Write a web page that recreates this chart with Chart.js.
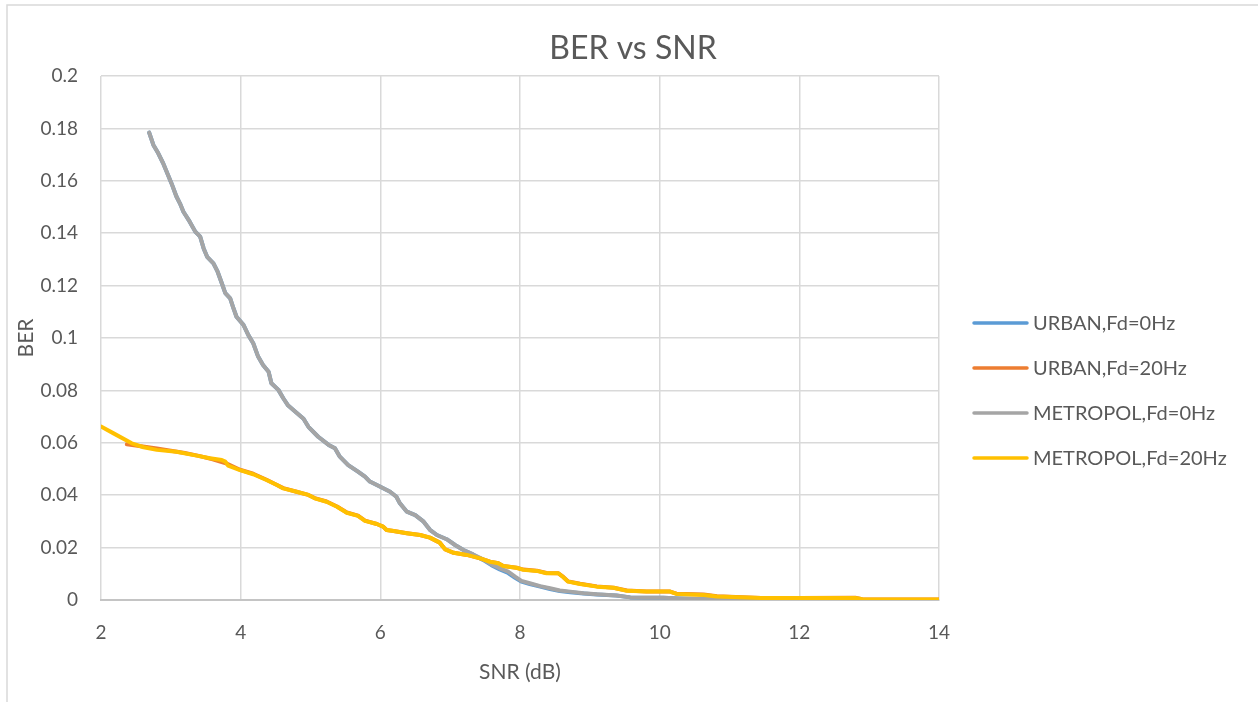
<!DOCTYPE html>
<html>
<head>
<meta charset="utf-8">
<title>BER vs SNR</title>
<script src="https://cdn.jsdelivr.net/npm/chart.js@4/dist/chart.umd.min.js"></script>
<style>
  html, body { margin: 0; padding: 0; background: #ffffff; overflow: hidden; }
  #wrap { width: 1258px; height: 702px; }
</style>
</head>
<body>
<div id="wrap"><canvas id="chart" width="1258" height="702"></canvas></div>
<script>
// Axis ticks
const xTicks = [2, 4, 6, 8, 10, 12, 14];
const yTicks = [0, 0.02, 0.04, 0.06, 0.08, 0.1, 0.12, 0.14, 0.16, 0.18, 0.2];
const yTickLabels = ['0', '0.02', '0.04', '0.06', '0.08', '0.1', '0.12', '0.14', '0.16', '0.18', '0.2'];

const seriesNames = ['URBAN,Fd=0Hz', 'URBAN,Fd=20Hz', 'METROPOL,Fd=0Hz', 'METROPOL,Fd=20Hz'];

// METROPOL, Fd = 0 Hz
const snrMetro0 = [2.69, 2.75, 2.82, 2.89, 2.93, 3.01, 3.08, 3.13, 3.18, 3.27, 3.35, 3.42, 3.47, 3.52, 3.61, 3.67, 3.73, 3.78, 3.85, 3.89,
  3.94, 4.04, 4.11, 4.18, 4.25, 4.32, 4.40, 4.44, 4.54, 4.61, 4.68, 4.80, 4.90, 4.97, 5.11, 5.26, 5.35, 5.42, 5.54, 5.68,
  5.78, 5.85, 6.00, 6.14, 6.23, 6.28, 6.38, 6.50, 6.62, 6.71, 6.81, 6.95, 7.07, 7.19, 7.33, 7.47, 7.59, 7.71, 7.83, 7.93,
  8.02, 8.14, 8.29, 8.43, 8.57, 8.72, 8.91, 9.10, 9.38, 9.58, 9.81, 10.05, 10.29, 10.53, 11.0, 11.5, 12.0, 13.0, 14.0];
const berMetro0 = [0.1784, 0.1737, 0.1705, 0.1667, 0.1641, 0.159, 0.154, 0.1514, 0.1482, 0.1444, 0.1406, 0.1387, 0.1342, 0.131, 0.1285, 0.1253, 0.1209, 0.1171, 0.1151, 0.1119,
  0.1081, 0.105, 0.1011, 0.098, 0.0929, 0.0897, 0.0871, 0.0827, 0.0802, 0.077, 0.0742, 0.0715, 0.0692, 0.0661, 0.0623, 0.0592, 0.0579, 0.0547, 0.0515, 0.049,
  0.0471, 0.0452, 0.0432, 0.0413, 0.0394, 0.0369, 0.0337, 0.0324, 0.0299, 0.0268, 0.0248, 0.0232, 0.021, 0.0191, 0.0174, 0.0155, 0.0136, 0.0121, 0.0108, 0.0089,
  0.0073, 0.0064, 0.0053, 0.0045, 0.0036, 0.0032, 0.0026, 0.0022, 0.0017, 0.001, 0.0009, 0.0009, 0.0006, 0.0004, 0.0001, 0.0001, 0.0001, 0.0, 0.0];

// URBAN, Fd = 0 Hz
const snrUrban0 = [2.69, 2.75, 2.82, 2.89, 2.93, 3.01, 3.08, 3.13, 3.18, 3.27, 3.35, 3.42, 3.47, 3.52, 3.61, 3.67, 3.73, 3.78, 3.85, 3.89,
  3.94, 4.04, 4.11, 4.18, 4.25, 4.32, 4.40, 4.44, 4.54, 4.61, 4.68, 4.80, 4.90, 4.97, 5.11, 5.26, 5.35, 5.42, 5.54, 5.68,
  5.78, 5.85, 6.00, 6.14, 6.23, 6.28, 6.38, 6.50, 6.62, 6.71, 6.81, 6.95, 7.07, 7.19, 7.33, 7.47, 7.59, 7.71, 7.83, 7.93,
  8.02, 8.14, 8.29, 8.43, 8.57, 8.72, 8.91, 9.10, 9.38, 9.58, 9.81, 10.05, 10.29, 10.53, 11.0, 11.5, 12.0, 13.0, 14.0];
const berUrban0 = [0.1784, 0.1737, 0.1705, 0.1667, 0.1641, 0.159, 0.154, 0.1514, 0.1482, 0.1444, 0.1406, 0.1387, 0.1342, 0.131, 0.1285, 0.1253, 0.1209, 0.1171, 0.1151, 0.1119,
  0.1081, 0.105, 0.1011, 0.098, 0.0929, 0.0897, 0.0871, 0.0827, 0.0802, 0.077, 0.0742, 0.0715, 0.0692, 0.0661, 0.0623, 0.0592, 0.0579, 0.0547, 0.0515, 0.049,
  0.0471, 0.0452, 0.0432, 0.0413, 0.0394, 0.0369, 0.0337, 0.0324, 0.0299, 0.0268, 0.0248, 0.0232, 0.021, 0.0191, 0.0173, 0.0153, 0.0133, 0.0117, 0.0103, 0.0085,
  0.0070, 0.0061, 0.0051, 0.0042, 0.0034, 0.0030, 0.0025, 0.0021, 0.0017, 0.001, 0.0009, 0.0009, 0.0006, 0.0004, 0.0001, 0.0001, 0.0001, 0.0, 0.0];

// METROPOL, Fd = 20 Hz
const snrMetro20 = [2.0, 2.18, 2.44, 2.61, 2.80, 3.08, 3.37, 3.56, 3.73, 3.78, 3.82, 3.99, 4.18, 4.37, 4.52, 4.61, 4.80, 4.97, 5.06, 5.23,
  5.38, 5.52, 5.68, 5.78, 5.95, 6.04, 6.09, 6.19, 6.38, 6.57, 6.71, 6.85, 6.93, 7.05, 7.24, 7.43, 7.57, 7.69, 7.76, 7.95,
  8.05, 8.24, 8.38, 8.55, 8.62, 8.69, 8.86, 9.10, 9.34, 9.53, 9.81, 10.15, 10.24, 10.63, 10.82, 11.45, 12.0, 12.8, 12.9, 14.0];
const berMetro20 = [0.0662, 0.0636, 0.0598, 0.0583, 0.0573, 0.0566, 0.0551, 0.0541, 0.0534, 0.0528, 0.0513, 0.0496, 0.048, 0.0458, 0.0439, 0.0426, 0.0413, 0.0401, 0.0388, 0.0375,
  0.0356, 0.0333, 0.0321, 0.0302, 0.029, 0.028, 0.0267, 0.0263, 0.0255, 0.0248, 0.0238, 0.0219, 0.0193, 0.018, 0.0172, 0.0159, 0.0146, 0.014, 0.013, 0.0123,
  0.0115, 0.0111, 0.0102, 0.0102, 0.0087, 0.007, 0.0061, 0.0051, 0.0047, 0.0035, 0.0032, 0.0032, 0.0023, 0.0019, 0.0013, 0.0008, 0.0008, 0.0008, 0.0003, 0.0002];

// URBAN, Fd = 20 Hz
const snrUrban20 = [2.37, 2.6, 2.8, 3.0, 3.2, 3.4, 3.6, 3.8, 3.99, 4.18, 4.37, 4.52, 4.61, 4.80, 4.97, 5.06, 5.23,
  5.38, 5.52, 5.68, 5.78, 5.95, 6.04, 6.09, 6.19, 6.38, 6.57, 6.71, 6.85, 6.93, 7.05, 7.24, 7.43, 7.57, 7.69, 7.76, 7.95,
  8.05, 8.24, 8.38, 8.55, 8.62, 8.69, 8.86, 9.10, 9.34, 9.53, 9.81, 10.15, 10.24, 10.63, 10.82, 11.45, 12.0, 12.8, 12.9, 14.0];
const berUrban20 = [0.0594, 0.0586, 0.0578, 0.057, 0.0561, 0.055, 0.0537, 0.0521, 0.0497, 0.0482, 0.0459, 0.0439, 0.0427, 0.0413, 0.0401, 0.0389, 0.0376,
  0.0357, 0.0334, 0.0322, 0.0303, 0.029, 0.028, 0.0267, 0.0263, 0.0255, 0.0248, 0.0238, 0.0219, 0.0193, 0.018, 0.0172, 0.0159, 0.0146, 0.014, 0.013, 0.0123,
  0.0116, 0.0112, 0.0103, 0.0102, 0.0088, 0.0071, 0.0062, 0.0052, 0.0047, 0.0036, 0.0032, 0.0032, 0.0024, 0.0021, 0.0014, 0.0008, 0.0008, 0.0009, 0.0003, 0.0002];

const seriesColors = ['#5B9BD5', '#ED7D31', '#A5A5A5', '#FFC000'];

const FONT = 'Lato, "Liberation Sans", sans-serif';
const TEXT = '#595959';

function points(xs, ys) {
  return xs.map((x, i) => ({ x: x, y: ys[i] }));
}

const seriesData = [
  points(snrUrban0, berUrban0),
  points(snrUrban20, berUrban20),
  points(snrMetro0, berMetro0),
  points(snrMetro20, berMetro20)
];

// Frame, title and legend drawn around the plot
const decorations = {
  id: 'decorations',
  beforeDraw(chart) {
    const ctx = chart.ctx;
    ctx.save();
    ctx.fillStyle = '#ffffff';
    ctx.fillRect(0, 0, chart.width, chart.height);
    ctx.strokeStyle = '#d9d9d9';
    ctx.lineWidth = 1.5;
    ctx.strokeRect(7, 5, chart.width + 10, chart.height + 10);
    ctx.restore();
  },
  afterDraw(chart) {
    const ctx = chart.ctx;
    ctx.save();
    ctx.fillStyle = TEXT;
    ctx.font = '32px ' + FONT;
    ctx.textAlign = 'center';
    ctx.textBaseline = 'middle';
    ctx.fillText('BER vs SNR', 633, 49);

    ctx.font = '20px ' + FONT;
    ctx.textAlign = 'left';
    chart.data.datasets.forEach((ds, i) => {
      const y = 323 + i * 45;
      ctx.strokeStyle = ds.borderColor;
      ctx.lineWidth = 3.5;
      ctx.lineCap = 'round';
      ctx.beginPath();
      ctx.moveTo(974, y);
      ctx.lineTo(1027, y);
      ctx.stroke();
      ctx.fillStyle = TEXT;
      ctx.fillText(ds.label, 1033, y + 1);
    });
    ctx.restore();
  }
};

new Chart(document.getElementById('chart'), {
  type: 'scatter',
  data: {
    datasets: seriesData.map((d, i) => ({
      label: seriesNames[i],
      data: d,
      // later series are painted over earlier ones
      order: seriesData.length - i,
      showLine: true,
      borderColor: seriesColors[i],
      backgroundColor: seriesColors[i],
      borderWidth: 4,
      pointRadius: 0,
      pointHoverRadius: 0,
      tension: 0,
      borderJoinStyle: 'round',
      borderCapStyle: 'round'
    }))
  },
  options: {
    responsive: false,
    animation: false,
    devicePixelRatio: 1,
    layout: { padding: { top: 76, left: 8, right: 319, bottom: 0 } },
    plugins: {
      legend: { display: false },
      title: { display: false },
      tooltip: { enabled: false }
    },
    scales: {
      x: {
        type: 'linear',
        min: 2,
        max: 14,
        afterBuildTicks(scale) { scale.ticks = xTicks.map(v => ({ value: v })); },
        afterFit(scale) { scale.height = 102; },
        ticks: {
          color: TEXT,
          font: { family: FONT, size: 19 },
          padding: 21,
          callback: v => String(v)
        },
        grid: { color: '#d9d9d9', lineWidth: 1.5, drawTicks: false },
        border: { display: true, color: '#c4c4c4', width: 2 },
        title: {
          display: true,
          text: 'SNR (dB)',
          color: TEXT,
          font: { family: FONT, size: 21 },
          padding: { top: 0, bottom: 17 }
        }
      },
      y: {
        type: 'linear',
        min: 0,
        max: 0.2,
        afterBuildTicks(scale) { scale.ticks = yTicks.map(v => ({ value: v })); },
        afterFit(scale) { scale.width = 93; },
        ticks: {
          color: TEXT,
          font: { family: FONT, size: 19 },
          padding: 23,
          callback: (v) => yTickLabels[yTicks.findIndex(t => Math.abs(t - v) < 1e-9)]
        },
        grid: { color: '#d9d9d9', lineWidth: 1.5, drawTicks: false },
        border: { display: false },
        title: {
          display: true,
          text: 'BER',
          color: TEXT,
          font: { family: FONT, size: 21 },
          padding: { top: 6, bottom: 0 }
        }
      }
    }
  },
  plugins: [decorations]
});
</script>
</body>
</html>
